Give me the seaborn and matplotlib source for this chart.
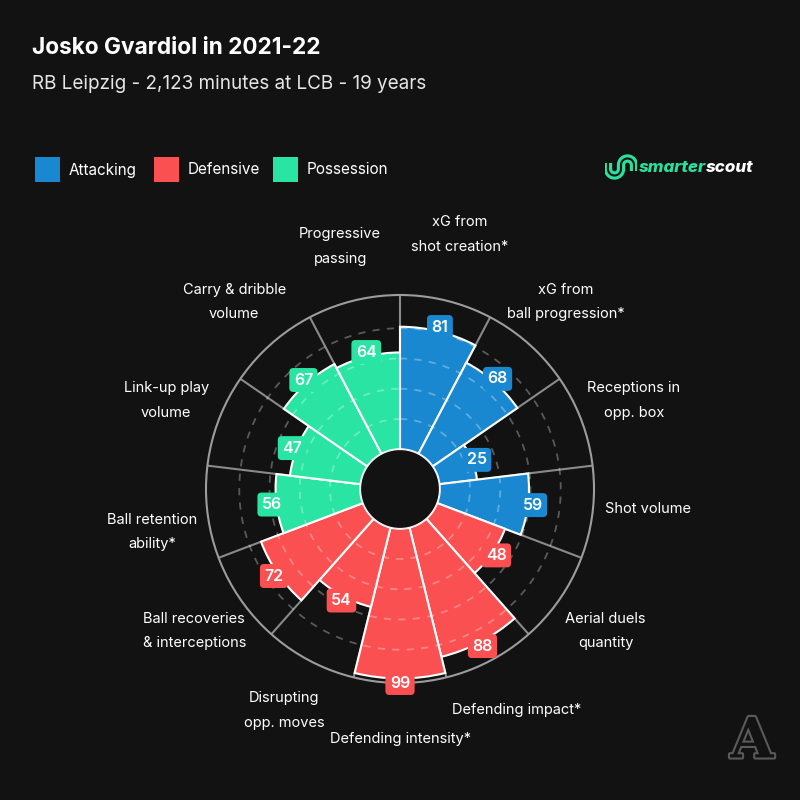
import numpy as np
import matplotlib
matplotlib.use("Agg")
import matplotlib.pyplot as plt
import seaborn as sns
from matplotlib.patches import Rectangle
import matplotlib.patheffects as pe

# ---------------- data ----------------
categories = [
    "xG from\nshot creation*", "xG from\nball progression*", "Receptions in\nopp. box",
    "Shot volume", "Aerial duels\nquantity", "Defending impact*", "Defending intensity*",
    "Disrupting\nopp. moves", "Ball recoveries\n& interceptions", "Ball retention\nability*",
    "Link-up play\nvolume", "Carry & dribble\nvolume", "Progressive\npassing",
]
values = [81, 68, 25, 59, 48, 88, 99, 54, 72, 56, 47, 67, 64]
groups = ["Attacking"] * 4 + ["Defensive"] * 5 + ["Possession"] * 4
group_names = ["Attacking", "Defensive", "Possession"]
group_colors = ["#1a88d1", "#fa5052", "#2ae4a3"]
title = "Josko Gvardiol in 2021-22"
subtitle = "RB Leipzig - 2,123 minutes at LCB - 19 years"
grid_levels = [20, 40, 60, 80]

# small vertical nudges (px, positive = up) for a few category labels
label_nudge = {0: 12, 3: 10, 9: -13}

BG = "#121212"
sns.set_theme(style="dark", rc={"figure.facecolor": BG, "axes.facecolor": BG,
                                "text.color": "white"})
plt.rcParams['font.family'] = ['Inter', 'DejaVu Sans']
palette = dict(zip(group_names, sns.color_palette(group_colors)))
colors = [palette[g] for g in groups]

fig = plt.figure(figsize=(8, 8), dpi=100, facecolor=BG)

# polar axes: centre (400, 489) px, radius 194 px
cx, cy, R = 400, 489, 194
ax = fig.add_axes([(cx - R) / 800, 1 - (cy + R) / 800, 2 * R / 800, 2 * R / 800],
                  projection='polar')
ax.set_facecolor(BG)
ax.set_theta_zero_location('N')
ax.set_theta_direction(-1)
n = len(values)
width = 2 * np.pi / n
theta = np.arange(n) * width + width / 2
rmax = 102
ax.set_ylim(0, rmax)
ax.set_rorigin(-26.3)
ax.grid(False)
ax.set_xticks([])
ax.set_yticks([])
ax.spines['polar'].set_color('#9c9c9c')
ax.spines['polar'].set_linewidth(1.5)
if 'inner' in ax.spines:
    ax.spines['inner'].set_visible(False)

# spokes
for k in range(n):
    a = k * width
    ax.plot([a, a], [0, rmax], color='#8a8a8a', lw=1.5, zorder=1)

ax.bar(theta, values, width=width, bottom=0, color=colors, edgecolor='white',
       linewidth=1.5, zorder=3)

tt = np.linspace(0, 2 * np.pi, 720)
for lv in grid_levels:
    ax.plot(tt, np.full_like(tt, lv), color='white', alpha=0.3, lw=1.3,
            ls=(0, (4, 4)), zorder=4)

for t, v, c in zip(theta, values, colors):
    ax.text(t, v + 3, str(v), ha='center', va='center', color='white', fontsize=11.5,
            fontweight='semibold', zorder=6,
            bbox=dict(boxstyle='round,pad=0.28,rounding_size=0.25', fc=c, ec='none'))

for i, (t, lab) in enumerate(zip(theta, categories)):
    dy = label_nudge.get(i, 0) * 0.72
    ax.annotate(lab, xy=(t, 139), xytext=(0, dy), textcoords='offset points',
                ha='center', va='center', color='white', fontsize=10.5,
                linespacing=1.95, annotation_clip=False)

# titles
fig.text(32 / 800, 1 - 54 / 800, title, fontsize=16.3, fontweight='bold', color='white',
         va='baseline', ha='left')
fig.text(32 / 800, 1 - 89 / 800, subtitle, fontsize=13.6, color='#e6e6e6',
         va='baseline', ha='left')

# legend
leg_x = [35, 154, 273]
for x0, name in zip(leg_x, group_names):
    fig.patches.append(Rectangle((x0 / 800, 1 - 182 / 800), 25 / 800, 25 / 800,
                                 transform=fig.transFigure, fc=palette[name], ec='none'))
    fig.text((x0 + 34) / 800, 1 - 170 / 800, name, fontsize=11, color='white',
             va='center', ha='left')

# smarterscout logo
green = "#2ae09e"
t1 = fig.text(639 / 800, 1 - 168 / 800, "smarter", fontsize=12.2, fontweight='heavy',
              style='italic', color=green, va='center', ha='left')
fig.canvas.draw()
bb = t1.get_window_extent()
fig.text(bb.x1 / 800, 1 - 168 / 800, "scout", fontsize=12.2, fontweight='heavy',
         style='italic', color='white', va='center', ha='left')
lax = fig.add_axes([605 / 800, 1 - 181 / 800, 32 / 800, 28 / 800])
lax.set_xlim(0, 32)
lax.set_ylim(0, 28)
lax.axis('off')
lax.set_facecolor('none')
a1 = np.linspace(np.pi, 2 * np.pi, 40)
a2 = np.linspace(np.pi, 0, 40)
px = np.concatenate([[3], 9.5 + 6.5 * np.cos(a1), [16], 22.5 + 6.5 * np.cos(a2), [29]])
py = np.concatenate([[18], 12 + 6.5 * np.sin(a1), [16], 16 + 6.5 * np.sin(a2), [10]])
lax.plot(px, py, color=green, lw=6, solid_capstyle='butt')
lax.plot(px, py, color=BG, lw=1.5, solid_capstyle='butt')

# "A" mark
fig.text(752 / 800, 1 - 742 / 800, "A", fontsize=40, family='DejaVu Serif',
         fontweight='bold', color=BG, ha='center', va='center',
         path_effects=[pe.withStroke(linewidth=3, foreground='#5a5a5a')])

fig.savefig("out.png", dpi=100, facecolor=BG)
